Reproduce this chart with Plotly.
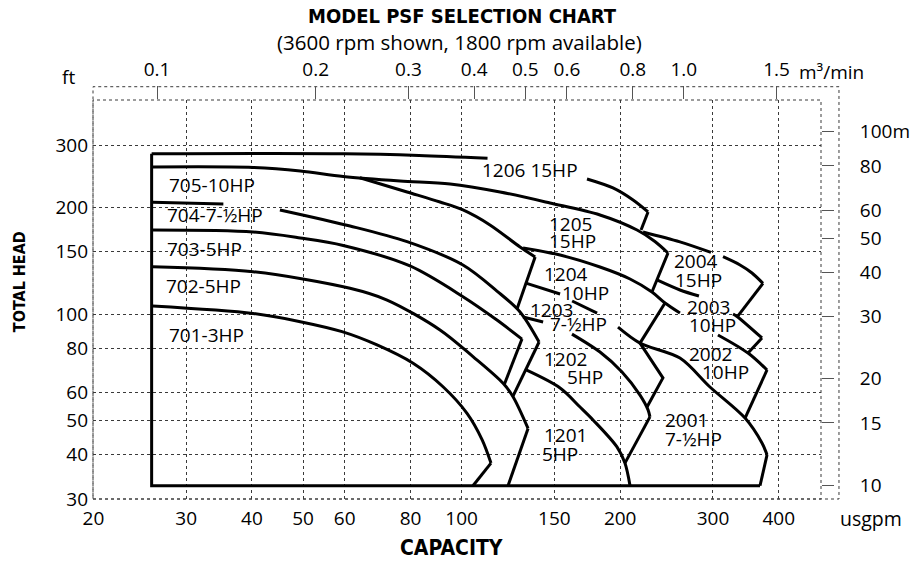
import numpy as np
import plotly.graph_objects as go

# ---------------- axis ticks ----------------
gpm_ticks = [20, 30, 40, 50, 60, 80, 100, 150, 200, 300, 400]
ft_ticks = [30, 40, 50, 60, 80, 100, 150, 200, 300]
m3min_ticks = [0.1, 0.2, 0.3, 0.4, 0.5, 0.6, 0.8, 1.0, 1.5]
m3min_text = ["0.1", "0.2", "0.3", "0.4", "0.5", "0.6", "0.8", "1.0", "1.5"]
m_ticks = [10, 15, 20, 30, 40, 50, 60, 80, 100]
m_text = ["10", "15", "20", "30", "40", "50", "60", "80", "100m"]

GPM_PER_M3MIN = 264.172
M_PER_FT = 0.3048

# ---------------- curves (usgpm , ft) ----------------
frame_q = [25.8, 25.8, 368.5]
frame_h = [284, 32.7, 32.7]
top_q = [25.8, 60, 83, 112]
top_h = [284, 284, 281, 276]

c1206_q = [173.0, 193.8, 211.6, 225.9]
c1206_h = [241.1, 227.4, 210.2, 194.5]
e1206_q = [225.9, 219.1]
e1206_h = [194.5, 172.9]

c705_q = [25.9, 40.2, 49.4, 59.6, 76.4, 95.1, 118.3, 147.2, 183.1, 215.3, 232.8, 246.5]
c705_h = [260.6, 259.8, 254.0, 245.0, 237.9, 233.4, 221.5, 206.2, 190.7, 172.9, 160.5, 148.9]
e705_q = [246.5, 229.8]
e705_h = [148.9, 115.5]

c705b_q = [64.1, 78.8, 91.0, 100.6, 113.2, 129.1, 137.9]
c705b_h = [243.1, 221.5, 207.5, 197.0, 178.7, 154.8, 145.1]
e705b_q = [137.9, 127.4]
e705b_h = [145.1, 103.4]

c704_q = [25.9, 35.3, None, 45.2, 61.4, 78.8, 100.6, 116.7, 129.1, 140.3]
c704_h = [207.1, 204.8, None, 197.0, 177.5, 160.3, 137.7, 116.2, 101.4, 83.4]
e704_q = [140.3, 125.2]
e704_h = [83.4, 58.6]

c703_q = [25.9, 40.2, 49.4, 59.6, 79.8, 100.6, 116.7, 130.2]
c703_h = [172.9, 170.7, 164.2, 156.4, 136.8, 112.0, 96.2, 85.0]
e703_q = [130.2, 120.4]
e703_h = [85.0, 63.0]

c702_q = [25.9, 40.2, 61.4, 72.2, 91.0, 105.1, 119.9, 125.2, 133.7]
c702_h = [136.2, 131.8, 118.3, 109.6, 90.2, 75.8, 63.7, 58.4, 47.5]
e702_q = [133.7, 122.5]
e702_h = [47.5, 32.7]

c701_q = [25.9, 40.2, 49.4, 59.3, 69.1, 80.9, 92.2, 102.4, 109.4, 113.7]
c701_h = [105.4, 100.4, 95.2, 89.2, 81.8, 72.6, 62.3, 52.4, 44.1, 37.9]
e701_q = [113.7, 105.1]
e701_h = [37.9, 32.7]

d_q = [130.8, 153.8, 183.1, 208.8, 229.8, 243.3, 259.7, None, 306.6, 349.7, 380.0]
d_h = [153.8, 146.9, 135.9, 125.7, 115.5, 107.5, 100.7, None, 87.3, 77.6, 69.5]
ed_q = [380.0, 345.2]
ed_h = [69.5, 50.8]

e_q = [132.0, 153.8, None, 162.1, 180.8, None, 198.1, 218.1, 259.7, 296.1, 345.2, 371.7, 380.0]
e_h = [122.5, 114.0, None, 108.9, 100.7, None, 91.9, 82.8, 75.1, 62.2, 50.8, 43.2, 40.0]
ee_q = [380.0, 368.5]
ee_h = [40.0, 32.7]

leg1204_q = [243.3, 218.1]
leg1204_h = [107.5, 82.8]
tip1203_q = [218.1, 241.1, 224.9]
tip1203_h = [82.8, 66.0, 54.6]

c2004_q = [221.0, 259.7, 297.4, None, 313.5, 337.7, 355.8, 373.3]
c2004_h = [170.7, 160.0, 149.4, None, 145.3, 137.7, 130.7, 122.2]
e2004_q = [373.3, 334.7]
e2004_h = [122.2, 98.8]

c2003_q = [234.9, 259.7, 282.2, None, 327.5, 333.3, 371.7]
c2003_h = [124.9, 117.0, 112.5, None, 100.1, 98.5, 85.6]
e2003_q = [371.7, 349.7]
e2003_h = [85.6, 77.6]

f2_q = [130.8, 142.8, None, 162.0, 183.1, 201.6, 218.1, 225.9, 227.8]
f2_h = [98.1, 95.0, None, 87.8, 78.1, 68.6, 59.0, 53.6, 51.2]
ef2_q = [227.8, 204.2]
ef2_h = [51.2, 37.9]

g2_q = [132.6, 153.8, 167.8, 177.6, 197.2, 204.2, 208.8]
g2_h = [69.5, 61.8, 54.6, 50.2, 42.1, 37.9, 32.7]

# ---------------- model labels ----------------
lab_text = ["705-10HP", "704-7-½HP", "703-5HP", "702-5HP", "701-3HP",
            "1206 15HP", "1205", "15HP", "1204", "10HP", "1203", "7-½HP",
            "1202", "5HP", "1201", "5HP", "2004", "15HP", "2003", "10HP",
            "2002", "10HP", "2001", "7-½HP"]
lab_q = [27.6, 27.4, 27.4, 27.2, 27.6, 108.4, 145.3, 145.3, 142.1, 153.8,
         133.7, 145.9, 142.1, 157.2, 142.1, 140.9, 250.8, 252.0, 265.4, 267.8,
         267.8, 283.5, 241.1, 241.1]
lab_h = [231.8, 190.7, 152.8, 120.1, 87.0, 255.7, 180.4, 161.3, 129.9, 115.1,
         102.7, 93.8, 74.7, 66.2, 45.4, 40.2, 140.9, 124.9, 104.4, 92.9,
         77.1, 68.8, 50.2, 44.4]

X_RANGE = [1.30030, 2.68223]
Y_RANGE = [1.47710, 2.60551]

curves = [
    (frame_q, frame_h, "linear"), (top_q, top_h, "spline"),
    (c1206_q, c1206_h, "spline"), (e1206_q, e1206_h, "linear"),
    (c705_q, c705_h, "spline"), (e705_q, e705_h, "linear"),
    (c705b_q, c705b_h, "spline"), (e705b_q, e705b_h, "linear"),
    (c704_q, c704_h, "spline"), (e704_q, e704_h, "linear"),
    (c703_q, c703_h, "spline"), (e703_q, e703_h, "linear"),
    (c702_q, c702_h, "spline"), (e702_q, e702_h, "linear"),
    (c701_q, c701_h, "spline"), (e701_q, e701_h, "linear"),
    (d_q, d_h, "spline"), (ed_q, ed_h, "linear"),
    (e_q, e_h, "spline"), (ee_q, ee_h, "linear"),
    (leg1204_q, leg1204_h, "linear"), (tip1203_q, tip1203_h, "linear"),
    (c2004_q, c2004_h, "spline"), (e2004_q, e2004_h, "linear"),
    (c2003_q, c2003_h, "spline"), (e2003_q, e2003_h, "linear"),
    (f2_q, f2_h, "spline"), (ef2_q, ef2_h, "linear"),
    (g2_q, g2_h, "spline"),
]

fig = go.Figure()
for q, h, shp in curves:
    fig.add_trace(go.Scatter(
        x=q, y=h, mode="lines", connectgaps=False, hoverinfo="skip",
        showlegend=False,
        line=dict(color="black", width=3, shape=shp, smoothing=0.9)))

# carrier for the secondary (metric) axes
fig.add_trace(go.Scatter(x=[None], y=[None], xaxis="x2", yaxis="y2",
                         mode="lines", showlegend=False, hoverinfo="skip"))

grid = dict(showgrid=True, gridcolor="#3a3a3a", griddash="dot", gridwidth=1,
            zeroline=False, showline=False, ticks="")

fig.update_layout(
    width=918, height=563,
    margin=dict(l=93, r=97, t=100, b=64, autoexpand=False),
    paper_bgcolor="white", plot_bgcolor="white", showlegend=False,
    font=dict(family="Open Sans", size=19, color="black"),
    xaxis=dict(type="log", range=X_RANGE, tickvals=gpm_ticks,
               ticktext=[str(v) for v in gpm_ticks], ticklabelstandoff=6,
               **grid),
    yaxis=dict(type="log", range=Y_RANGE, tickvals=ft_ticks,
               ticktext=[str(v) for v in ft_ticks], ticklabelstandoff=4,
               **grid),
    xaxis2=dict(type="log", overlaying="x", side="top", anchor="y",
                range=[X_RANGE[0] - np.log10(GPM_PER_M3MIN),
                       X_RANGE[1] - np.log10(GPM_PER_M3MIN)],
                tickvals=m3min_ticks, ticktext=m3min_text,
                ticks="outside", ticklen=13, tickcolor="#555", tickwidth=1,
                showgrid=False, zeroline=False, showline=False,
                ticklabelstandoff=2),
    yaxis2=dict(type="log", overlaying="y", side="right", anchor="x",
                range=[Y_RANGE[0] + np.log10(M_PER_FT),
                       Y_RANGE[1] + np.log10(M_PER_FT)],
                tickvals=m_ticks, ticktext=m_text,
                ticks="outside", ticklen=12, tickcolor="#555", tickwidth=1,
                showgrid=False, zeroline=False, showline=False,
                ticklabelstandoff=22),
)

dot = dict(color="#3a3a3a", width=1, dash="dot")
fig.add_shape(type="rect", xref="paper", yref="paper", x0=0, x1=1, y0=0, y1=1,
              line=dot, layer="below")
fig.add_shape(type="rect", xref="paper", yref="paper", x0=0, x1=1.0247,
              y0=0, y1=1.0333, line=dot, layer="below")

for t, q, h in zip(lab_text, lab_q, lab_h):
    fig.add_annotation(x=np.log10(q), y=np.log10(h), xref="x", yref="y",
                       text=t, showarrow=False, xanchor="left",
                       yanchor="middle", font=dict(size=19))

cond = "DejaVu Sans Condensed, Liberation Sans Narrow, sans-serif"


def note(x, y, text, size=19, family=None, xanchor="center", angle=0):
    f = dict(size=size)
    if family:
        f["family"] = family
    fig.add_annotation(x=x, y=y, xref="paper", yref="paper", text=text,
                       showarrow=False, xanchor=xanchor, yanchor="middle",
                       textangle=angle, font=f)


note(0.507, 1.210, "<b>MODEL PSF SELECTION CHART</b>", 20, cond)
note(0.504, 1.146, "(3600 rpm shown, 1800 rpm available)", 20.5)
note(-0.034, 1.058, "ft", 19)
note(0.967, 1.070, "m³/min", 19, xanchor="left")
note(1.069, -0.048, "usgpm", 19.5)
note(0.493, -0.122, "<b>CAPACITY</b>", 21, cond)
note(-0.100, 0.544, "<b>TOTAL HEAD</b>", 16, cond, angle=-90)

# remove the browser's default 8px body margin so the figure fills the window
fig.write_html("out.html",
               config={"displayModeBar": False},
               post_script="document.body.style.margin='0px';")
